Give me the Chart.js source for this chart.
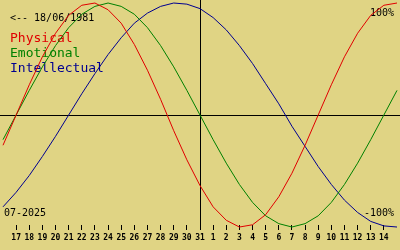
<!DOCTYPE html>
<html>
<head>
<meta charset="utf-8">
<script src="https://cdn.jsdelivr.net/npm/chart.js@4/dist/chart.umd.min.js"></script>
<style>
  html, body { margin: 0; padding: 0; background: #e0d484; }
  #wrap { width: 400px; height: 250px; }
</style>
</head>
<body>
<div id="wrap"><canvas id="bio"></canvas></div>
<script>
// days shown: 16 Jul .. 15 Aug 2025 (first and last only reach the edges)
const days = ['16', '17', '18', '19', '20', '21', '22', '23', '24', '25', '26', '27', '28', '29', '30', '31',
              '1', '2', '3', '4', '5', '6', '7', '8', '9', '10', '11', '12', '13', '14', '15'];

// cycle values, -1 .. +1
const physical = [-0.27, 0.00, 0.27, 0.52, 0.73, 0.89, 0.98, 1.00, 0.94, 0.82, 0.63, 0.40, 0.14, -0.14, -0.40, -0.63,
                  -0.82, -0.94, -1.00, -0.98, -0.89, -0.73, -0.52, -0.27, 0.00, 0.27, 0.52, 0.73, 0.89, 0.98, 1.00];
const emotional = [-0.22, 0.00, 0.22, 0.43, 0.62, 0.78, 0.90, 0.97, 1.00, 0.97, 0.90, 0.78, 0.62, 0.43, 0.22, 0.00,
                   -0.22, -0.43, -0.62, -0.78, -0.90, -0.97, -1.00, -0.97, -0.90, -0.78, -0.62, -0.43, -0.22, 0.00, 0.22];
const intellectual = [-0.82, -0.69, -0.54, -0.37, -0.19, 0.00, 0.19, 0.37, 0.54, 0.69, 0.82, 0.91, 0.97, 1.00, 0.99, 0.95,
                      0.87, 0.76, 0.62, 0.46, 0.28, 0.10, -0.10, -0.28, -0.46, -0.62, -0.76, -0.87, -0.95, -0.99, -1.00];

const seriesNames = ['Physical', 'Emotional', 'Intellectual'];
const seriesColors = ['#e00000', '#008000', '#000090'];
const birthText = '<-- 18/06/1981';
const monthText = '07-2025';
const todayIndex = 15; // 31 Jul

const BG = '#e0d484';
const MONO = '"DejaVu Sans Mono", "Liberation Mono", monospace';

// background, cross lines and texts under the curves
const bioDecor = {
    id: 'bioDecor',
    beforeDraw(chart) {
        const c = chart.ctx;
        c.save();
        c.fillStyle = BG;
        c.fillRect(0, 0, chart.width, chart.height);
        c.restore();
    },
    beforeDatasetsDraw(chart) {
        const c = chart.ctx;
        const x = chart.scales.x;
        const y = chart.scales.y;
        const area = chart.chartArea;
        c.save();
        c.strokeStyle = '#000';
        c.lineWidth = 1;
        // zero line
        const y0 = Math.round(y.getPixelForValue(0)) + 0.5;
        c.beginPath();
        c.moveTo(0, y0);
        c.lineTo(chart.width, y0);
        c.stroke();
        // today line
        const xt = Math.round(x.getPixelForValue(todayIndex)) + 0.5;
        c.beginPath();
        c.moveTo(xt, 0);
        c.lineTo(xt, area.bottom + 3);
        c.stroke();

        c.textBaseline = 'alphabetic';
        c.fillStyle = '#000';
        c.font = '10px ' + MONO;
        c.textAlign = 'left';
        c.fillText(birthText, 10, 21);
        c.fillText(monthText, 4, 216);
        c.textAlign = 'right';
        c.fillText('100%', 394, 16);
        c.fillText('-100%', 394, 216);

        c.textAlign = 'left';
        c.font = '13px ' + MONO;
        seriesNames.forEach((name, i) => {
            c.fillStyle = seriesColors[i];
            c.fillText(name, 10, 42 + i * 15);
        });
        c.restore();
    }
};

const ctx = document.getElementById('bio').getContext('2d');
const edge = (i) => i === 0 || i === days.length - 1;

new Chart(ctx, {
    type: 'line',
    data: {
        labels: days,
        datasets: [physical, emotional, intellectual].map((values, i) => ({
            label: seriesNames[i],
            data: values,
            borderColor: seriesColors[i],
            borderWidth: 1,
            pointRadius: 0,
            tension: 0,
            fill: false,
            clip: false
        }))
    },
    options: {
        responsive: true,
        maintainAspectRatio: false,
        animation: false,
        layout: { padding: 0 },
        plugins: {
            legend: { display: false },
            tooltip: { enabled: false }
        },
        scales: {
            x: {
                offset: false,
                border: { display: false },
                grid: {
                    drawOnChartArea: false,
                    drawTicks: true,
                    tickLength: 5,
                    color: (c) => edge(c.index) ? 'rgba(0,0,0,0)' : '#000'
                },
                ticks: {
                    autoSkip: false,
                    maxRotation: 0,
                    padding: 3,
                    color: '#000',
                    font: { family: MONO, size: 8, weight: 'bold' },
                    callback: (v, i) => edge(i) ? '' : days[i]
                },
                afterFit(scale) { scale.height = 25; }
            },
            y: {
                display: false,
                min: -0.982,
                max: 1.027
            }
        }
    },
    plugins: [bioDecor]
});
</script>
</body>
</html>
